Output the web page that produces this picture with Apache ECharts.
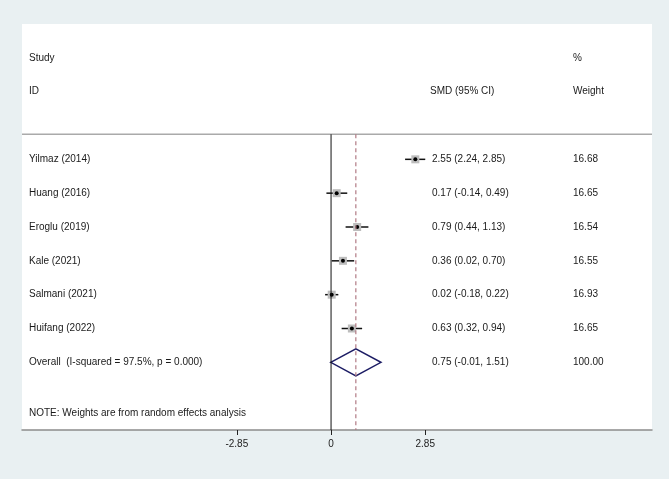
<!DOCTYPE html>
<html>
<head>
<meta charset="utf-8">
<script src="https://cdn.jsdelivr.net/npm/echarts@6/dist/echarts.min.js"></script>
<style>
  html, body { margin: 0; padding: 0; background: #e9f0f2; }
  #chart { width: 669px; height: 479px; }
</style>
</head>
<body>
<div id="chart"></div>
<script>
// study rows
const studies = ['Yilmaz (2014)', 'Huang (2016)', 'Eroglu (2019)', 'Kale (2021)', 'Salmani (2021)', 'Huifang (2022)'];
const smd = [2.55, 0.17, 0.79, 0.36, 0.02, 0.63];
const ciLow = [2.24, -0.14, 0.44, 0.02, -0.18, 0.32];
const ciHigh = [2.85, 0.49, 1.13, 0.70, 0.22, 0.94];
const weights = ['16.68', '16.65', '16.54', '16.55', '16.93', '16.65'];

// pooled estimate
const overallLabel = 'Overall  (I-squared = 97.5%, p = 0.000)';
const overallEst = 0.75;
const overallLow = -0.01;
const overallHigh = 1.51;
const overallWeight = '100.00';

const xTicks = [-2.85, 0, 2.85];
const noteText = 'NOTE: Weights are from random effects analysis';

const X_MIN = -9.35, X_MAX = 9.71;
const Y_MIN = -4, Y_MAX = 8;
const SEP_ROW = -0.74;
const FONT = { fontFamily: 'Liberation Sans, Arial, sans-serif', fontSize: 10, fill: '#1a1a1a' };
const COL_STUDY = 29, COL_SMD = 432, COL_W = 573;

function fmt(e, l, h) {
  return e.toFixed(2) + ' (' + l.toFixed(2) + ', ' + h.toFixed(2) + ')';
}
function txt(x, y, s) {
  return { type: 'text', style: Object.assign({ x: x, y: y, text: s, verticalAlign: 'middle', align: 'left' }, FONT) };
}

const rowData = studies.map((s, i) => [smd[i], i, ciLow[i], ciHigh[i]]);

const chart = echarts.init(document.getElementById('chart'));
chart.setOption({
  backgroundColor: '#e9f0f2',
  animation: false,
  grid: { left: 22, right: 17, top: 24, bottom: 49, show: true, backgroundColor: '#fff', borderWidth: 0 },
  xAxis: {
    type: 'value', min: X_MIN, max: X_MAX,
    axisLine: { show: true, onZero: false, lineStyle: { color: '#8c8c8c', width: 1.5 } },
    axisTick: { show: true, customValues: xTicks, length: 5, lineStyle: { color: '#222', width: 1 } },
    axisLabel: {
      customValues: xTicks, margin: 9, color: '#222', fontSize: 10,
      fontFamily: 'Liberation Sans, Arial, sans-serif',
      formatter: v => (v === 0 ? '0' : v.toFixed(2))
    },
    splitLine: { show: false }
  },
  yAxis: { type: 'value', min: Y_MIN, max: Y_MAX, inverse: true, show: false, splitLine: { show: false } },
  series: [
    {
      type: 'line', symbol: 'none', silent: true,
      data: [[X_MIN, SEP_ROW], [X_MAX, SEP_ROW]],
      lineStyle: { color: '#aaaaaa', width: 1.5 }
    },
    {
      type: 'line', symbol: 'none', silent: true,
      data: [[0, SEP_ROW], [0, Y_MAX]],
      lineStyle: { color: '#111', width: 1 }
    },
    {
      type: 'line', symbol: 'none', silent: true,
      data: [[overallEst, SEP_ROW], [overallEst, Y_MAX]],
      lineStyle: { color: '#b07a84', width: 1.2, type: [4, 3] }
    },
    {
      type: 'custom', silent: true,
      data: rowData,
      renderItem: function (params, api) {
        const i = params.dataIndex;
        const c = api.coord([api.value(0), api.value(1)]);
        const lo = api.coord([api.value(2), api.value(1)]);
        const hi = api.coord([api.value(3), api.value(1)]);
        return {
          type: 'group',
          children: [
            { type: 'line', shape: { x1: lo[0], y1: c[1], x2: hi[0], y2: c[1] }, style: { stroke: '#111', lineWidth: 1.5 } },
            { type: 'rect', shape: { x: c[0] - 4, y: c[1] - 4, width: 8, height: 8 }, style: { fill: '#bdbdbd' } },
            { type: 'circle', shape: { cx: c[0], cy: c[1], r: 2 }, style: { fill: '#000' } },
            txt(COL_STUDY, c[1], studies[i]),
            txt(COL_SMD, c[1], fmt(smd[i], ciLow[i], ciHigh[i])),
            txt(COL_W, c[1], weights[i])
          ]
        };
      }
    },
    {
      type: 'custom', silent: true,
      data: [[overallEst, studies.length, overallLow, overallHigh]],
      renderItem: function (params, api) {
        const r = api.value(1);
        const c = api.coord([api.value(0), r]);
        const lo = api.coord([api.value(2), r]);
        const hi = api.coord([api.value(3), r]);
        const top = api.coord([api.value(0), r - 0.4]);
        const bot = api.coord([api.value(0), r + 0.4]);
        return {
          type: 'group',
          children: [
            { type: 'polygon', shape: { points: [[lo[0], c[1]], [top[0], top[1]], [hi[0], c[1]], [bot[0], bot[1]]] },
              style: { fill: 'none', stroke: '#1c1c64', lineWidth: 1.5 } },
            txt(COL_STUDY, c[1], overallLabel),
            txt(COL_SMD, c[1], fmt(overallEst, overallLow, overallHigh)),
            txt(COL_W, c[1], overallWeight)
          ]
        };
      }
    },
    {
      type: 'custom', silent: true,
      data: [[0, -3], [0, -2], [0, 7.5]],
      renderItem: function (params, api) {
        const y = api.coord([0, api.value(1)])[1];
        const k = params.dataIndex;
        if (k === 0) return { type: 'group', children: [txt(COL_STUDY, y, 'Study'), txt(COL_W, y, '%')] };
        if (k === 1) return { type: 'group', children: [txt(COL_STUDY, y, 'ID'), txt(COL_SMD - 2, y, 'SMD (95% CI)'), txt(COL_W, y, 'Weight')] };
        return txt(COL_STUDY, y, noteText);
      }
    }
  ]
});
</script>
</body>
</html>
